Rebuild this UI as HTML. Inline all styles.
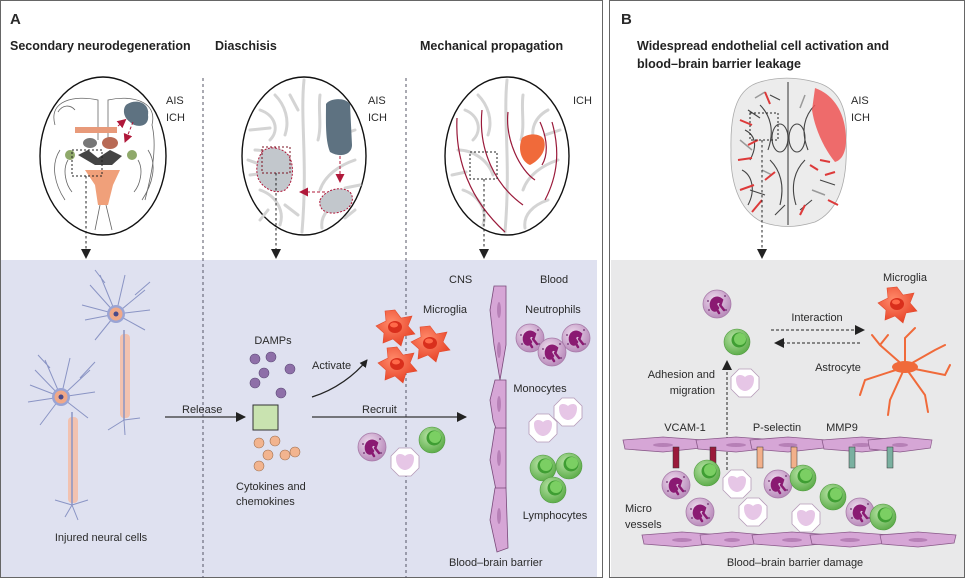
<!DOCTYPE html>
<html><head><meta charset="utf-8"><style>
html,body{margin:0;padding:0;background:#fff}
svg{display:block}
text{font-family:"Liberation Sans",sans-serif;fill:#2a2a2a}
.t{font-size:11px}
.h{font-size:12.5px;font-weight:bold;fill:#222}
</style></head><body>
<svg width="965" height="578" viewBox="0 0 965 578" xmlns="http://www.w3.org/2000/svg">
<defs>
<radialGradient id="np" cx="40%" cy="35%" r="65%"><stop offset="0" stop-color="#eedcee"/><stop offset="1" stop-color="#b98bbb"/></radialGradient>
<radialGradient id="ly" cx="40%" cy="35%" r="65%"><stop offset="0" stop-color="#b8e3a6"/><stop offset="1" stop-color="#5fae4c"/></radialGradient>
<radialGradient id="rd" cx="40%" cy="35%" r="65%"><stop offset="0" stop-color="#ff8a6a"/><stop offset="1" stop-color="#e8452a"/></radialGradient>
<g id="neu"><circle r="14" fill="url(#np)" stroke="#a77aa8" stroke-width="0.8"/><path d="M5,-4 C0,-9 -7,-5 -6,2 C-5,7 -1,8 1,4 L-1,1 C-1,-3 2,-3 4,-1 Z M-1,4 L2,9 M3,1 L7,6" fill="#8a1a72" stroke="#8a1a72" stroke-width="2.5" stroke-linecap="round"/><circle cx="-9" cy="-3" r="0.9" fill="#6a2a6a"/><circle cx="8" cy="-8" r="0.9" fill="#6a2a6a"/><circle cx="9" cy="6" r="0.9" fill="#6a2a6a"/><circle cx="-8" cy="6" r="0.9" fill="#6a2a6a"/></g>
<g id="lym"><circle r="13" fill="url(#ly)" stroke="#4f9a3e" stroke-width="0.6"/><circle cx="2" cy="-2" r="7.5" fill="#3f9e33"/><circle cx="3" cy="-3" r="6" fill="#7bcf63"/></g>
<g id="mon"><polygon points="-6,-14 6,-14 14,-6 14,6 6,14 -6,14 -14,6 -14,-6" fill="#fff" stroke="#b59ab8" stroke-width="0.8"/><path d="M-9,-4 C-9,-9 -3,-9 0,-6 C3,-9 9,-9 9,-4 C9,5 3,8 0,8 C-3,8 -9,5 -9,-4Z" fill="#e6c6e6"/></g>
<g id="mg"><polygon points="0,-18 6,-10 17,-12 13,-2 20,6 9,8 6,18 -2,11 -12,15 -11,5 -19,-2 -9,-7 -10,-17" fill="url(#rd)" stroke="#e34a2c" stroke-width="0.6"/><ellipse cx="0" cy="-1" rx="7" ry="6" fill="#d92f1c"/><ellipse cx="-1" cy="-3" rx="4" ry="2.5" fill="#ff6a4a"/></g>
<g id="end"><path d="M0,0 L40,-3 L80,0 L78,8 L40,12 L2,9 Z" fill="#d6a6d6" stroke="#8a5a8a" stroke-width="0.8"/><ellipse cx="40" cy="5" rx="10" ry="2" fill="#b680b6"/></g>
<marker id="ah" markerWidth="8" markerHeight="8" refX="7" refY="4" orient="auto" markerUnits="userSpaceOnUse"><path d="M0,0 L8,4 L0,8Z" fill="#222"/></marker>
<marker id="ahs" markerWidth="10" markerHeight="10" refX="9" refY="5" orient="auto" markerUnits="userSpaceOnUse"><path d="M0,0 L10,5 L0,10Z" fill="#222"/></marker>
<marker id="ar" markerWidth="9" markerHeight="9" refX="8" refY="4.5" orient="auto" markerUnits="userSpaceOnUse"><path d="M0,0 L9,4.5 L0,9Z" fill="#b0183a"/></marker>
</defs>

<rect x="0.5" y="0.5" width="602" height="577" fill="#fff" stroke="#666" stroke-width="1"/>
<rect x="609.5" y="0.5" width="355" height="577" fill="#fff" stroke="#666" stroke-width="1"/>
<rect x="1" y="260" width="596" height="317" fill="#dfe1f0"/>
<rect x="611" y="260" width="353" height="317" fill="#e9e9ea"/>

<text x="10" y="24" style="font-size:15px;font-weight:bold">A</text>
<text x="621" y="24" style="font-size:15px;font-weight:bold">B</text>
<text class="h" x="10" y="50">Secondary neurodegeneration</text>
<text class="h" x="215" y="50">Diaschisis</text>
<text class="h" x="420" y="50">Mechanical propagation</text>
<text class="h" x="637" y="50">Widespread endothelial cell activation and</text>
<text class="h" x="637" y="68">blood–brain barrier leakage</text>

<line x1="203" y1="78" x2="203" y2="578" stroke="#556" stroke-dasharray="3,3" stroke-width="1"/>
<line x1="406" y1="78" x2="406" y2="578" stroke="#556" stroke-dasharray="3,3" stroke-width="1"/>

<!-- brain 1 -->
<ellipse cx="103" cy="156" rx="63" ry="79" fill="#fff" stroke="#111" stroke-width="1.4"/>
<g fill="none" stroke="#666" stroke-width="0.8">
<path d="M55,125 C48,100 75,95 98,100 L98,140 M108,140 L108,100 C130,95 158,100 152,125 C158,150 150,180 145,200"/>
<path d="M60,150 C50,165 55,185 65,200 M148,150 C158,165 152,185 142,200"/>
<path d="M68,160 C62,170 66,185 72,192 M138,160 C144,170 140,185 134,192"/>
<path d="M58,112 C62,105 70,104 75,110 M148,112 C144,105 136,104 131,110 M100,205 L95,230 M106,205 L112,230"/>
</g>
<rect x="75" y="127" width="42" height="6" fill="#e89a7a"/>
<ellipse cx="90" cy="143" rx="7" ry="5" fill="#777"/><ellipse cx="110" cy="143" rx="8" ry="6" fill="#b86a55"/>
<path d="M78,155 L88,150 L98,158 L110,150 L122,156 L112,165 L95,165Z" fill="#444"/>
<path d="M85,170 L120,170 L113,185 L108,205 L98,205 L95,185Z" fill="#f0a07a"/>
<circle cx="70" cy="155" r="5" fill="#8fa96a"/><circle cx="132" cy="155" r="5" fill="#8fa96a"/>
<path d="M126,105 C135,98 150,102 148,115 C150,128 135,128 130,122 C124,118 122,110 126,105Z" fill="#5e7281"/>
<path d="M133,122 L125,142" stroke="#b0183a" stroke-dasharray="3,2" fill="none" marker-end="url(#ar)"/>
<path d="M118,126 L128,126" stroke="#b0183a" fill="none" marker-end="url(#ar)" transform="rotate(-40 118 126)"/>
<rect x="72" y="150" width="30" height="26" fill="none" stroke="#222" stroke-dasharray="2,2"/>
<line x1="86" y1="176" x2="86" y2="258" stroke="#222" stroke-dasharray="2.5,2.5" marker-end="url(#ahs)"/>
<text class="t" x="166" y="104">AIS</text><text class="t" x="166" y="121">ICH</text>

<!-- brain 2 -->
<ellipse cx="304" cy="156" rx="62" ry="79" fill="#fff" stroke="#111" stroke-width="1.4"/>
<g fill="none" stroke="#d4d4d4" stroke-width="3" stroke-linecap="round">
<path d="M304,80 C300,120 308,160 302,232"/>
<path d="M260,110 C275,115 280,130 270,140 M255,150 C270,150 285,160 290,175 M260,190 C275,195 285,210 280,225 M275,95 C285,105 290,120 285,135"/>
<path d="M345,110 C330,118 325,135 335,145 M355,160 C340,165 325,175 320,190 M345,200 C330,205 320,215 322,228 M320,95 C318,110 322,125 318,140"/>
<path d="M250,130 L270,128 M250,175 L275,172 M355,130 L340,135 M360,185 L345,188"/>
<path d="M248,160 L262,165 M290,95 L298,110 M285,205 L298,215 M268,210 L260,220 M355,210 L345,218"/>
</g>
<path d="M326,104 C330,98 345,97 350,104 L352,145 C352,155 340,158 330,152 C325,140 326,120 326,104Z" fill="#5e7281"/>
<path d="M262,152 C268,145 285,147 290,158 C295,170 292,185 285,190 C275,195 262,188 258,178 C255,168 258,158 262,152Z" fill="#c2c7cc" stroke="#b0183a" stroke-dasharray="2,1.5"/>
<path d="M320,200 C325,190 340,185 350,192 C356,200 350,210 340,212 C330,215 318,212 320,200Z" fill="#c2c7cc" stroke="#b0183a" stroke-dasharray="2,1.5"/>
<line x1="340" y1="156" x2="340" y2="182" stroke="#b0183a" stroke-dasharray="3,2" marker-end="url(#ar)"/>
<line x1="325" y1="192" x2="300" y2="192" stroke="#b0183a" stroke-dasharray="3,2" marker-end="url(#ar)"/>
<rect x="262" y="147" width="28" height="26" fill="none" stroke="#7a1020" stroke-dasharray="2,2"/>
<line x1="276" y1="173" x2="276" y2="258" stroke="#222" stroke-dasharray="2.5,2.5" marker-end="url(#ahs)"/>
<text class="t" x="368" y="104">AIS</text><text class="t" x="368" y="121">ICH</text>

<!-- brain 3 -->
<ellipse cx="507" cy="156" rx="62" ry="79" fill="#fff" stroke="#111" stroke-width="1.4"/>
<g fill="none" stroke="#d4d4d4" stroke-width="3" stroke-linecap="round">
<path d="M507,80 C503,120 511,160 505,232"/>
<path d="M465,110 C478,115 483,130 473,140 M458,150 C473,150 488,160 493,175 M463,190 C478,195 488,210 483,225"/>
<path d="M548,110 C533,118 528,135 538,145 M558,160 C543,165 528,175 523,190 M548,200 C533,205 523,215 525,228"/>
<path d="M478,95 C488,105 493,120 488,135 M523,95 C521,110 525,125 521,140 M452,175 L466,172 M560,130 L545,135"/>
</g>
<g fill="none" stroke="#9a1a3a" stroke-width="1.2">
<path d="M457,118 C455,160 470,200 505,232"/><path d="M482,110 C478,150 495,185 523,205"/>
<path d="M508,112 C505,140 520,170 535,180"/><path d="M552,122 C560,150 558,175 545,200"/><path d="M540,122 C548,140 548,155 542,165"/>
</g>
<path d="M522,138 C530,132 542,134 544,140 C547,150 540,160 530,165 C522,162 517,150 522,138Z" fill="#f06a3a"/>
<rect x="470" y="152" width="27" height="27" fill="none" stroke="#222" stroke-dasharray="2,2"/>
<line x1="484" y1="179" x2="484" y2="258" stroke="#222" stroke-dasharray="2.5,2.5" marker-end="url(#ahs)"/>
<text class="t" x="573" y="104">ICH</text>

<!-- brain B -->
<path d="M760,82 C780,76 800,78 815,82 C840,88 848,110 846,140 C848,180 840,210 815,222 C795,228 780,228 762,222 C738,210 730,180 731,150 C730,110 738,88 760,82Z" fill="#ececec" stroke="#aaa" stroke-width="0.8"/>
<g fill="none" stroke="#444" stroke-width="1.1">
<path d="M788,82 L788,225"/><path d="M760,105 C770,115 775,130 768,150 M815,105 C805,115 800,130 808,150"/>
<path d="M770,160 C780,170 785,185 780,205 M805,160 C795,170 790,185 796,205"/>
<path d="M745,130 C755,135 758,145 750,160 M742,170 C752,175 756,190 748,205"/>
<ellipse cx="780" cy="138" rx="8" ry="14"/><ellipse cx="797" cy="138" rx="8" ry="14"/>
<path d="M748,110 L760,118 M750,190 L765,195 M770,95 L780,100 M775,215 L785,205 M800,210 L812,200 M820,180 L835,185"/>
</g>
<g fill="none" stroke="#999" stroke-width="1.5">
<path d="M740,140 L752,150 M762,170 L772,175 M805,95 L800,108 M812,190 L825,195 M755,98 L765,92"/>
</g>
<path d="M815,88 C835,95 846,115 846,140 C846,152 842,160 835,162 C825,150 815,130 812,110Z" fill="#ef5555" opacity="0.85"/>
<g stroke="#dd3a3a" stroke-width="2" fill="none">
<path d="M740,120 L752,125 M738,160 L752,158 M740,190 L754,185 M752,212 L762,200 M765,92 L770,104 M825,175 L835,172 M828,200 L838,205 M800,215 L805,205 M748,145 L758,140 M820,160 L830,162 M765,180 L775,172 M810,165 L818,170"/>
</g>
<rect x="750" y="113" width="28" height="27" fill="none" stroke="#222" stroke-dasharray="2,2"/>
<line x1="762" y1="140" x2="762" y2="258" stroke="#222" stroke-dasharray="2.5,2.5" marker-end="url(#ahs)"/>
<text class="t" x="851" y="104">AIS</text><text class="t" x="851" y="121">ICH</text>

<!-- neurons -->
<g stroke="#8a94c4" stroke-width="1" fill="none">
<path d="M116,314 L90,285 M116,314 L100,275 M116,314 L125,275 M116,314 L145,290 M116,314 L150,310 M116,314 L145,330 M116,314 L85,320 M116,314 L82,305 M116,314 L95,340 M105,283 L95,270 M135,295 L150,282"/>
<path d="M61,397 L35,370 M61,397 L45,360 M61,397 L70,358 M61,397 L90,370 M61,397 L95,392 M61,397 L88,418 M61,397 L28,402 M61,397 L30,385 M61,397 L40,425 M50,368 L38,355 M80,378 L95,362"/>
<path d="M124,420 L108,430 M124,420 L140,418 M124,420 L125,435 M72,505 L55,500 M72,505 L88,500 M72,505 L78,520 M72,505 L65,517"/>
</g>
<rect x="120" y="334" width="10" height="84" rx="4" fill="#f2c2b0"/>
<line x1="124" y1="330" x2="124" y2="420" stroke="#8a94c4" stroke-width="1.5"/>
<rect x="68" y="417" width="10" height="86" rx="4" fill="#f2c2b0"/>
<line x1="72" y1="412" x2="72" y2="505" stroke="#8a94c4" stroke-width="1.5"/>
<circle cx="116" cy="314" r="9" fill="#9aa4d4"/><circle cx="116" cy="314" r="6.5" fill="#f0a888"/><circle cx="116" cy="314" r="2.5" fill="#4a4a8a"/>
<circle cx="61" cy="397" r="9" fill="#9aa4d4"/><circle cx="61" cy="397" r="6.5" fill="#f0a888"/><circle cx="61" cy="397" r="2.5" fill="#4a4a8a"/>
<text class="t" x="101" y="541" text-anchor="middle">Injured neural cells</text>

<line x1="165" y1="417" x2="245" y2="417" stroke="#333" stroke-width="1.3" marker-end="url(#ahs)"/>
<text class="t" x="182" y="413">Release</text>
<rect x="253" y="405" width="25" height="25" fill="#c9e3b0" stroke="#333" stroke-width="1"/>
<text class="t" x="273" y="344" text-anchor="middle">DAMPs</text>
<g fill="#8e6fa8" stroke="#5e4a78" stroke-width="0.6">
<circle cx="255" cy="359" r="5"/><circle cx="271" cy="357" r="5"/><circle cx="264" cy="373" r="5"/><circle cx="290" cy="369" r="5"/><circle cx="255" cy="383" r="5"/><circle cx="281" cy="393" r="5"/></g>
<g fill="#f2b48f" stroke="#a07050" stroke-width="0.6">
<circle cx="259" cy="443" r="5"/><circle cx="275" cy="441" r="5"/><circle cx="268" cy="455" r="5"/><circle cx="285" cy="455" r="5"/><circle cx="295" cy="452" r="5"/><circle cx="259" cy="466" r="5"/></g>
<text class="t" x="236" y="490">Cytokines and</text>
<text class="t" x="236" y="505">chemokines</text>

<path d="M312,397 C335,390 355,375 367,360" stroke="#222" stroke-width="1.3" fill="none" marker-end="url(#ah)"/>
<text class="t" x="312" y="369">Activate</text>
<line x1="312" y1="417" x2="466" y2="417" stroke="#333" stroke-width="1.3" marker-end="url(#ahs)"/>
<text class="t" x="362" y="413">Recruit</text>
<use href="#mg" x="395" y="328"/><use href="#mg" x="430" y="344"/><use href="#mg" x="397" y="365"/>
<text class="t" x="423" y="313">Microglia</text>
<use href="#neu" x="372" y="447"/><use href="#lym" x="432" y="440"/><use href="#mon" x="405" y="462"/>

<text class="t" x="449" y="283">CNS</text><text class="t" x="540" y="283">Blood</text>
<g fill="#d6a6d6" stroke="#7a4a7a" stroke-width="0.8">
<path d="M494,286 L506,286 L506,345 L500,380 L494,345 L490,310Z"/>
<path d="M495,380 L506,380 L506,428 L500,440 L493,420 L490,400Z"/>
<path d="M495,428 L506,428 L506,488 L496,490 L490,460Z"/>
<path d="M495,488 L506,488 L508,548 L497,552 L490,520Z"/>
</g>
<g fill="#b680b6"><ellipse cx="499" cy="310" rx="2" ry="8"/><ellipse cx="499" cy="350" rx="2" ry="8"/><ellipse cx="499" cy="404" rx="2" ry="8"/><ellipse cx="499" cy="458" rx="2" ry="8"/><ellipse cx="499" cy="516" rx="2" ry="8"/></g>
<text class="t" x="449" y="566">Blood–brain barrier</text>
<text class="t" x="553" y="313" text-anchor="middle">Neutrophils</text>
<use href="#neu" x="530" y="338"/><use href="#neu" x="576" y="338"/><use href="#neu" x="552" y="352"/>
<text class="t" x="540" y="392" text-anchor="middle">Monocytes</text>
<use href="#mon" x="568" y="412"/><use href="#mon" x="543" y="428"/>
<use href="#lym" x="543" y="468"/><use href="#lym" x="569" y="466"/><use href="#lym" x="553" y="490"/>
<text class="t" x="555" y="519" text-anchor="middle">Lymphocytes</text>

<use href="#neu" x="717" y="304"/><use href="#lym" x="737" y="342"/><use href="#mon" x="745" y="383"/>
<text class="t" x="817" y="321" text-anchor="middle">Interaction</text>
<line x1="771" y1="330" x2="864" y2="330" stroke="#222" stroke-dasharray="3,2" marker-end="url(#ahs)"/>
<line x1="860" y1="343" x2="775" y2="343" stroke="#222" stroke-dasharray="3,2" marker-end="url(#ahs)"/>
<text class="t" x="905" y="281" text-anchor="middle">Microglia</text>
<use href="#mg" x="897" y="305"/>
<g stroke="#f06a3a" stroke-width="2" fill="none" stroke-linecap="round">
<path d="M905,367 L880,345 L872,335 M905,367 L905,338 L915,328 M905,367 L935,350 L945,345 M905,367 L945,375 L950,365 M905,367 L925,395 L928,412 M905,367 L890,400 L888,415 M905,367 L865,380 L860,395 M880,345 L888,335"/>
</g>
<ellipse cx="905" cy="367" rx="13" ry="6" fill="#f06a3a"/>
<text class="t" x="838" y="371" text-anchor="middle">Astrocyte</text>
<text class="t" x="715" y="378" text-anchor="end">Adhesion and</text>
<text class="t" x="715" y="394" text-anchor="end">migration</text>
<line x1="727" y1="470" x2="727" y2="361" stroke="#222" stroke-dasharray="3,2" marker-end="url(#ahs)"/>

<text class="t" x="685" y="431" text-anchor="middle">VCAM-1</text>
<text class="t" x="777" y="431" text-anchor="middle">P-selectin</text>
<text class="t" x="842" y="431" text-anchor="middle">MMP9</text>
<g transform="translate(623,440)"><use href="#end"/></g>
<g transform="translate(696,440)"><use href="#end"/></g>
<g transform="translate(750,440) scale(0.95,1)"><use href="#end"/></g>
<g transform="translate(822,440)"><use href="#end"/></g>
<g transform="translate(868,440) scale(0.8,1)"><use href="#end"/></g>
<rect x="673" y="447" width="6" height="21" fill="#9a1a3a" stroke="#333" stroke-width="0.5"/>
<rect x="710" y="447" width="6" height="21" fill="#9a1a3a" stroke="#333" stroke-width="0.5"/>
<rect x="757" y="447" width="6" height="21" fill="#f2b08a" stroke="#333" stroke-width="0.5"/>
<rect x="791" y="447" width="6" height="21" fill="#f2b08a" stroke="#333" stroke-width="0.5"/>
<rect x="849" y="447" width="6" height="21" fill="#7ab0a0" stroke="#333" stroke-width="0.5"/>
<rect x="887" y="447" width="6" height="21" fill="#7ab0a0" stroke="#333" stroke-width="0.5"/>

<g transform="translate(642,535)"><use href="#end"/></g>
<g transform="translate(700,535) scale(0.8,1)"><use href="#end"/></g>
<g transform="translate(752,535)"><use href="#end"/></g>
<g transform="translate(810,535)"><use href="#end"/></g>
<g transform="translate(880,535) scale(0.95,1)"><use href="#end"/></g>
<use href="#neu" x="676" y="485"/><use href="#lym" x="707" y="473"/><use href="#mon" x="737" y="484"/>
<use href="#neu" x="700" y="512"/><use href="#mon" x="753" y="512"/>
<use href="#neu" x="778" y="484"/><use href="#lym" x="803" y="478"/><use href="#lym" x="833" y="497"/>
<use href="#mon" x="806" y="518"/><use href="#neu" x="860" y="512"/><use href="#lym" x="883" y="517"/>
<text class="t" x="625" y="512">Micro</text><text class="t" x="625" y="528">vessels</text>
<text class="t" x="795" y="566" text-anchor="middle">Blood–brain barrier damage</text>
</svg>
</body></html>
